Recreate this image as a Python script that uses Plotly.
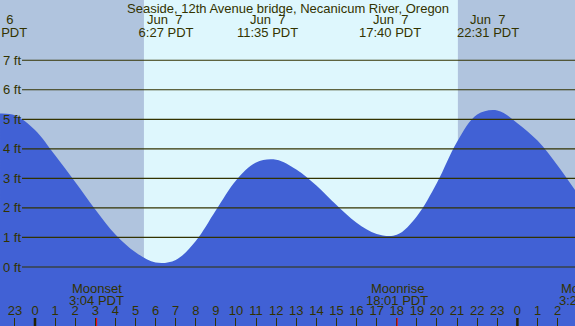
import plotly.graph_objects as go

# ---------------- data ----------------
# tide curve samples: hours since midnight Jun 7 (PDT), height in ft
tide_hours = [-1.74, -1, 0, 1, 2, 3, 4, 5, 6, 7, 8, 9, 10, 11, 12, 13, 14, 15, 16,
              17, 18, 19, 20, 21, 22, 23, 24, 25, 26, 26.87]
tide_ft = [5.20, 5.14, 4.64, 3.78, 2.88, 1.95, 1.10, 0.50, 0.15, 0.24, 0.88, 1.92,
           2.93, 3.54, 3.63, 3.30, 2.76, 2.10, 1.50, 1.12, 1.09, 1.72, 2.85, 4.24,
           5.16, 5.30, 4.87, 4.28, 3.44, 2.60]

# tide extremes (labels at top)
extreme_hours = [-1.95, 6.45, 11.58, 17.67, 22.52]
extreme_dates = ["Jun  6", "Jun  7", "Jun  7", "Jun  7", "Jun  7"]
extreme_times = ["21:57 PDT", " 6:27 PDT", "11:35 PDT", "17:40 PDT", "22:31 PDT"]

# sun (day shading)
sunrise_hour = 5.42
sunset_hour = 21.04

# moon events (labels at bottom)
moon_hours = [3.067, 18.017, 27.42]
moon_names = ["Moonset", "Moonrise", "Moonset"]
moon_times = ["3:04 PDT", "18:01 PDT", "3:25 PDT"]

# axis ticks
ft_ticks = [0, 1, 2, 3, 4, 5, 6, 7]
ft_labels = ["0 ft", "1 ft", "2 ft", "3 ft", "4 ft", "5 ft", "6 ft", "7 ft"]
hour_ticks = list(range(-1, 27))
hour_labels = [str(h % 24) for h in hour_ticks]
midnight_hours = [0, 24]

# ---------------- layout constants ----------------
W, H = 575, 326
X_RANGE = [-1.741, 26.866]
Y_RANGE = [-1.997, 9.039]
PXPH = W / (X_RANGE[1] - X_RANGE[0])

NIGHT = "#B0C4DE"
DAY = "#DEF7FD"
WATER = "#4161D5"
INK = "#333300"
FONT = "Liberation Sans, Arial, sans-serif"


def py(px):
    """paper y from pixel-from-top"""
    return 1 - px / H


def xpos(t):
    """anchor inside range + pixel shift for off-range labels"""
    if t < X_RANGE[0]:
        return X_RANGE[0] + 0.001, (t - X_RANGE[0] - 0.001) * PXPH
    if t > X_RANGE[1]:
        return X_RANGE[1] - 0.001, (t - X_RANGE[1] + 0.001) * PXPH
    return t, 0


fig = go.Figure()

# baseline at bottom of plot so the water fill reaches the bottom edge
fig.add_trace(go.Scatter(x=[X_RANGE[0], X_RANGE[1]], y=[Y_RANGE[0], Y_RANGE[0]],
                         mode="lines", line=dict(width=0, color=WATER),
                         hoverinfo="skip", showlegend=False))
fig.add_trace(go.Scatter(x=tide_hours, y=tide_ft, mode="lines",
                         line=dict(width=0, color=WATER, shape="spline", smoothing=1),
                         fill="tonexty", fillcolor=WATER,
                         hoverinfo="skip", showlegend=False))

shapes = []
# day shading
shapes.append(dict(type="rect", xref="x", yref="paper", x0=sunrise_hour, x1=sunset_hour,
                   y0=0, y1=1, fillcolor=DAY, line=dict(width=0), layer="below"))
# horizontal grid lines
for v in ft_ticks:
    shapes.append(dict(type="line", xref="paper", yref="y", x0=22 / W, x1=1, y0=v, y1=v,
                       line=dict(color=INK, width=1.2), layer="above"))
# thick midnight ticks
for m in midnight_hours:
    shapes.append(dict(type="line", xref="x", yref="paper", x0=m, x1=m, y0=0, y1=8 / H,
                       line=dict(color="#222200", width=2.5), layer="above"))
# red moon ticks
for t in moon_hours:
    if X_RANGE[0] <= t <= X_RANGE[1]:
        shapes.append(dict(type="line", xref="x", yref="paper", x0=t, x1=t, y0=0, y1=8 / H,
                           line=dict(color="#FF0000", width=1), layer="above"))

ann = []
tf = dict(family=FONT, size=13, color=INK)
ann.append(dict(text="Seaside, 12th Avenue bridge, Necanicum River, Oregon", xref="paper",
                yref="paper", x=0.5, y=py(8.5), xanchor="center", yanchor="middle",
                showarrow=False, font=tf))
for t, d, tm in zip(extreme_hours, extreme_dates, extreme_times):
    xv, sh = xpos(t)
    ann.append(dict(text=d, xref="x", yref="paper", x=xv, xshift=sh, y=py(19.5),
                    xanchor="center", yanchor="middle", showarrow=False, font=tf))
    ann.append(dict(text=tm, xref="x", yref="paper", x=xv, xshift=sh, y=py(32.5),
                    xanchor="center", yanchor="middle", showarrow=False, font=tf))
for t, n, tm in zip(moon_hours, moon_names, moon_times):
    xv, sh = xpos(t)
    ann.append(dict(text=n, xref="x", yref="paper", x=xv, xshift=sh, y=py(288.5),
                    xanchor="center", yanchor="middle", showarrow=False, font=tf))
    ann.append(dict(text=tm, xref="x", yref="paper", x=xv, xshift=sh, y=py(300),
                    xanchor="center", yanchor="middle", showarrow=False, font=tf))
for v, lab in zip(ft_ticks, ft_labels):
    ann.append(dict(text=lab, xref="paper", yref="y", x=1 / W, y=v, xanchor="left",
                    yanchor="middle", showarrow=False, font=tf))

fig.update_layout(
    width=W, height=H, margin=dict(l=0, r=0, t=0, b=0),
    paper_bgcolor=NIGHT, plot_bgcolor=NIGHT,
    shapes=shapes, annotations=ann, showlegend=False,
    xaxis=dict(range=X_RANGE, showgrid=False, zeroline=False, showline=False,
               tickmode="array", tickvals=hour_ticks, ticktext=hour_labels,
               ticks="inside", ticklen=8, tickwidth=1, tickcolor=INK,
               ticklabelposition="inside", tickfont=tf, fixedrange=True),
    yaxis=dict(range=Y_RANGE, showgrid=False, zeroline=False, showline=False,
               showticklabels=False, ticks="", fixedrange=True),
)

fig.write_html("out.html", config={"displayModeBar": False},
               post_script="document.body.style.margin='0';"
                           "document.body.style.overflow='hidden';")
